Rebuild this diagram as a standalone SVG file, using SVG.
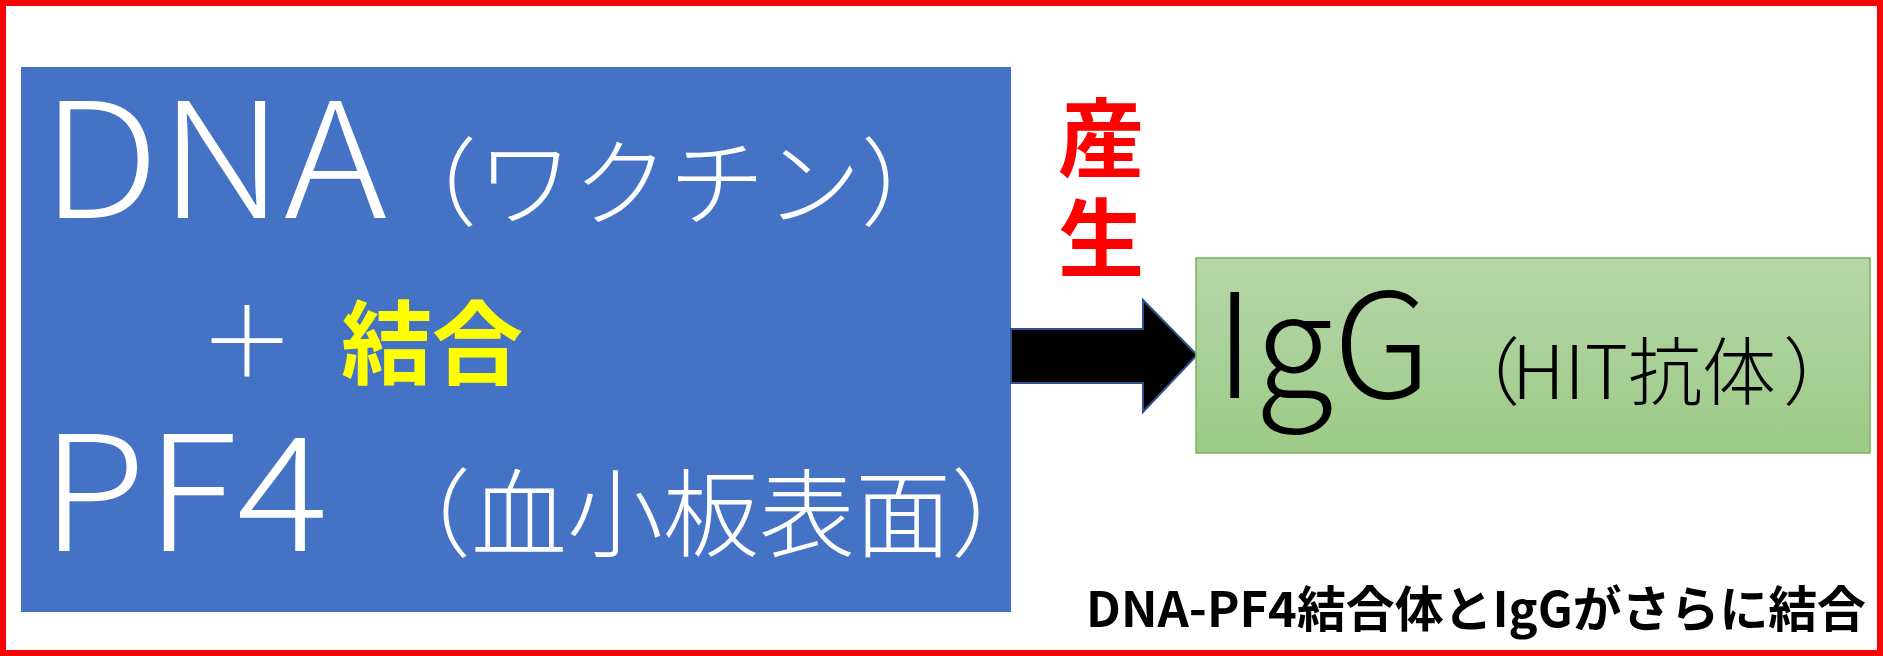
<svg xmlns="http://www.w3.org/2000/svg" width="1883" height="656" viewBox="0 0 1883 656">
<style>
.jp{font-family:"Noto Sans CJK JP","Noto Sans",sans-serif;}
.lt{font-weight:300;fill:#FFFFFF;}
.bk{font-weight:300;fill:#000000;}
</style>
<defs>
<linearGradient id="gr" x1="0" y1="0" x2="0" y2="1">
<stop offset="0" stop-color="#B6D7A8"/>
<stop offset="1" stop-color="#9DCA87"/>
</linearGradient>
</defs>
<rect x="0" y="0" width="1883" height="656" fill="#FFFFFF"/>
<rect x="3" y="3" width="1877" height="650" fill="none" stroke="#FF0000" stroke-width="6"/>
<g id="dna-pf4">
<rect x="21" y="67" width="990" height="545" fill="#4472C4"/>
<text class="jp lt" transform="translate(41,218) scale(1.1,1)" x="0" y="0" font-size="160">DNA</text>
<text class="jp lt" x="381" y="218" font-size="96">（ワクチン）</text>
<text class="jp lt" x="199" y="376" font-size="96">＋</text>
<text class="jp" x="341" y="377" font-size="91" font-weight="700" fill="#FFFF00">結合</text>
<text class="jp lt" transform="translate(41,551) scale(1.07,1)" x="0" y="0" font-size="160">PF4</text>
<text class="jp lt" x="375" y="549" font-size="96">（血小板表面）</text>
</g>
<g id="connectors">
<polygon points="1011,329 1143,329 1143,300 1197,355 1143,412 1143,383 1011,383" fill="#000000" stroke="#2F528F" stroke-width="2"/>
</g>
<g id="label-sansei">
<text class="jp" x="1101" y="171" font-size="86" font-weight="700" fill="#FF0000" text-anchor="middle">産</text>
<text class="jp" x="1101" y="271" font-size="86" font-weight="700" fill="#FF0000" text-anchor="middle">生</text>
</g>
<g id="igg">
<rect x="1196" y="258" width="674" height="195" fill="url(#gr)" stroke="#7CB35A" stroke-width="1.5"/>
<text class="jp bk" x="1215" y="398" font-size="145">IgG</text>
<text class="jp bk" x="1446" y="399" font-size="74">（</text>
<text class="jp bk" x="1512" y="399" font-size="74">HIT抗体</text>
<text class="jp bk" x="1783" y="399" font-size="74">）</text>
</g>
<g id="note">
<text class="jp" x="1086" y="627" font-size="49" font-weight="700" fill="#000000" textLength="780" lengthAdjust="spacingAndGlyphs">DNA-PF4結合体とIgGがさらに結合</text>
</g>
</svg>
